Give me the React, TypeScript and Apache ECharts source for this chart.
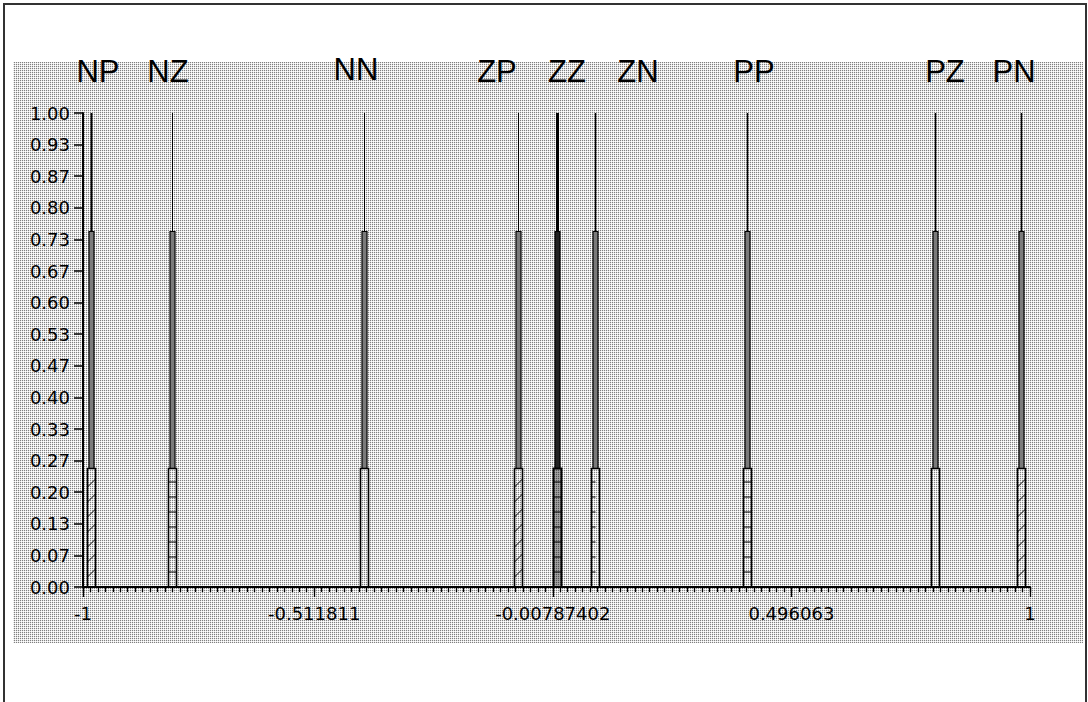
import React, { useEffect, useRef } from "react";
import * as echarts from "echarts";

// ---- data ----
const setNames = ["NP", "NZ", "NN", "ZP", "ZZ", "ZN", "PP", "PZ", "PN"];
const setCenters = [-0.984, -0.813, -0.406, -0.081, 0, 0.082, 0.402, 0.8, 0.981];
const peakValues = [1, 1, 1, 1, 1, 1, 1, 1, 1];
const shoulderValues = [0.75, 0.75, 0.75, 0.75, 0.75, 0.75, 0.75, 0.75, 0.75];
const baseValues = [0.25, 0.25, 0.25, 0.25, 0.25, 0.25, 0.25, 0.25, 0.25];

const xTickLabels = ["-1", "-0.511811", "-0.00787402", "0.496063", "1"];
const xTickValues = [-1, -0.511811, -0.00787402, 0.496063, 1];
const yTickLabels = [
  "0.00", "0.07", "0.13", "0.20", "0.27", "0.33", "0.40", "0.47",
  "0.53", "0.60", "0.67", "0.73", "0.80", "0.87", "0.93", "1.00",
];

// ---- styles / layout ----
const hatchStyles = ["diag", "box", "plain", "diag", "dense", "tick", "box", "plain", "diag"];
const stemWidths = [2, 1, 1, 1, 3, 1.5, 1.5, 1.5, 1.5];
const nameCenters = [98, 168, 356, 497, 567, 638, 754, 945, 1014];
const nameTops = [71, 71, 69, 71, 71, 71, 71, 71, 71];

const minorTicks: number[] = [];
for (let k = 0; k <= 127; k++) minorTicks.push(-1 + (k * 2) / 127);
const yTickValues = yTickLabels.map((_, i) => i / 15);

function makePattern(): any {
  try {
    const c = document.createElement("canvas");
    c.width = 2;
    c.height = 2;
    const ctx = c.getContext("2d");
    if (!ctx) return "#d2d2d2";
    ctx.fillStyle = "#e6e6e6";
    ctx.fillRect(0, 0, 2, 2);
    ctx.fillStyle = "#ffffff";
    ctx.fillRect(1, 1, 1, 1);
    ctx.fillStyle = "#808080";
    ctx.fillRect(0, 0, 1, 1);
    return { image: c.toDataURL(), repeat: "repeat", imageWidth: 2, imageHeight: 2 };
  } catch (e) {
    return "#d2d2d2";
  }
}

export default function App() {
  const ref = useRef<HTMLDivElement>(null);
  useEffect(() => {
    if (!ref.current) return;
    const chart = echarts.init(ref.current, null, { renderer: "svg" });

    const data = setCenters.map((x, i) => [x, peakValues[i], shoulderValues[i], baseValues[i], i]);

    const renderItem = (params: any, api: any) => {
      const x = api.value(0);
      const idx = api.value(4);
      const p0 = api.coord([x, 0]);
      const pb = api.coord([x, api.value(3)]);
      const ps = api.coord([x, api.value(2)]);
      const pt = api.coord([x, api.value(1)]);
      const cx = Math.round(p0[0]) + 0.5;
      const style = hatchStyles[idx];
      const children: any[] = [];
      children.push({
        type: "line",
        shape: { x1: cx, y1: ps[1], x2: cx, y2: pt[1] },
        style: { stroke: "#000", lineWidth: stemWidths[idx] },
      });
      children.push({
        type: "rect",
        shape: { x: cx - 2.5, y: ps[1], width: 5, height: pb[1] - ps[1] },
        style: { fill: style === "dense" ? "#222" : "#7a7a7a", stroke: "#000", lineWidth: 1.2 },
      });
      children.push({
        type: "rect",
        shape: { x: cx - 4, y: pb[1], width: 8, height: p0[1] - pb[1] },
        style: { fill: style === "dense" ? "rgba(0,0,0,0.35)" : "none", stroke: "#000", lineWidth: style === "dense" ? 2 : 1.6 },
      });
      if (style !== "plain") {
        for (let yy = p0[1] - 15; yy > pb[1] + 3; yy -= 15) {
          if (style === "box" || style === "dense") {
            children.push({ type: "line", shape: { x1: cx - 4, y1: yy, x2: cx + 4, y2: yy }, style: { stroke: "#000", lineWidth: 1 } });
          } else if (style === "tick") {
            children.push({ type: "line", shape: { x1: cx - 4, y1: yy, x2: cx, y2: yy }, style: { stroke: "#000", lineWidth: 1 } });
          } else if (style === "diag") {
            children.push({ type: "line", shape: { x1: cx - 4, y1: yy + 5, x2: cx + 4, y2: yy - 3 }, style: { stroke: "#000", lineWidth: 1 } });
          }
        }
      }
      return { type: "group", children };
    };

    const option: any = {
      animation: false,
      grid: { left: 83, right: 58, top: 113, bottom: 115, containLabel: false },
      xAxis: [
        {
          type: "value",
          min: -1,
          max: 1,
          position: "bottom",
          axisLine: { show: true, onZero: false, lineStyle: { color: "#000", width: 2 } },
          axisTick: { show: true, customValues: minorTicks, length: 5, lineStyle: { color: "#000", width: 1.3 } },
          axisLabel: {
            customValues: xTickValues,
            formatter: (v: number) => {
              const i = xTickValues.findIndex((t) => Math.abs(t - v) < 1e-7);
              return i >= 0 ? xTickLabels[i] : "";
            },
            color: "#000",
            fontFamily: "DejaVu Sans",
            fontSize: 18,
            margin: 17,
          },
          splitLine: { show: false },
        },
        {
          type: "value",
          min: -1,
          max: 1,
          position: "bottom",
          offset: 0,
          axisLine: { show: false, onZero: false },
          axisTick: { show: true, customValues: xTickValues, length: 10, lineStyle: { color: "#000", width: 1.3 } },
          axisLabel: { show: false },
          splitLine: { show: false },
        },
      ],
      yAxis: {
        type: "value",
        min: 0,
        max: 1,
        position: "left",
        axisLine: { show: true, onZero: false, lineStyle: { color: "#000", width: 2 } },
        axisTick: { show: true, customValues: yTickValues, length: 9, lineStyle: { color: "#000", width: 1.5 } },
        axisLabel: {
          customValues: yTickValues,
          formatter: (v: number) => {
            const i = yTickValues.findIndex((t) => Math.abs(t - v) < 1e-7);
            return i >= 0 ? yTickLabels[i] : "";
          },
          color: "#000",
          fontFamily: "DejaVu Sans",
          fontSize: 18,
          margin: 13,
        },
        splitLine: { show: false },
      },
      graphic: [
        {
          type: "rect",
          z: -100,
          shape: { x: 13, y: 62, width: 1070, height: 581 },
          style: { fill: makePattern() },
          silent: true,
        },
        {
          type: "rect",
          z: -99,
          shape: { x: 4, y: 4, width: 1082, height: 710 },
          style: { fill: "none", stroke: "#333", lineWidth: 2 },
          silent: true,
        },
        ...setNames.map((n, i) => ({
          type: "text",
          z: 10,
          x: nameCenters[i],
          y: nameTops[i],
          style: {
            text: n,
            fill: "#000",
            font: "31px 'Liberation Sans', Arial, sans-serif",
            align: "center",
            verticalAlign: "middle",
          },
          silent: true,
        })),
      ],
      series: [
        {
          type: "custom",
          xAxisIndex: 0,
          yAxisIndex: 0,
          renderItem,
          data,
          clip: false,
          z: 5,
        },
      ],
    };
    chart.setOption(option);
    return () => chart.dispose();
  }, []);
  return (
    <div
      ref={ref}
      style={{ position: "fixed", left: 0, top: 0, width: 1088, height: 702, background: "#fff" }}
    />
  );
}
